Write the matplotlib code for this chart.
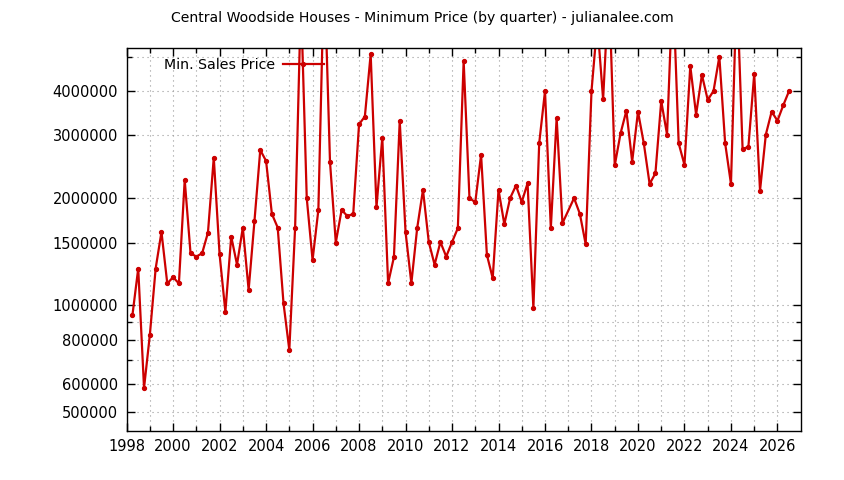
import matplotlib
matplotlib.use("Agg")
import matplotlib.pyplot as plt
from matplotlib.ticker import FixedLocator, NullFormatter, FuncFormatter

TITLE = "Central Woodside Houses - Minimum Price (by quarter) - julianalee.com"
LABEL = "Min. Sales Price"

# quarter positions (decimal year) -- 2017.0 has no sale
quarters = [
    1998.25, 1998.5, 1998.75, 1999.0, 1999.25, 1999.5, 1999.75,
    2000.0, 2000.25, 2000.5, 2000.75, 2001.0, 2001.25, 2001.5, 2001.75,
    2002.0, 2002.25, 2002.5, 2002.75, 2003.0, 2003.25, 2003.5, 2003.75,
    2004.0, 2004.25, 2004.5, 2004.75, 2005.0, 2005.25, 2005.5, 2005.75,
    2006.0, 2006.25, 2006.5, 2006.75, 2007.0, 2007.25, 2007.5, 2007.75,
    2008.0, 2008.25, 2008.5, 2008.75, 2009.0, 2009.25, 2009.5, 2009.75,
    2010.0, 2010.25, 2010.5, 2010.75, 2011.0, 2011.25, 2011.5, 2011.75,
    2012.0, 2012.25, 2012.5, 2012.75, 2013.0, 2013.25, 2013.5, 2013.75,
    2014.0, 2014.25, 2014.5, 2014.75, 2015.0, 2015.25, 2015.5, 2015.75,
    2016.0, 2016.25, 2016.5, 2016.75, 2017.25, 2017.5, 2017.75,
    2018.0, 2018.25, 2018.5, 2018.75, 2019.0, 2019.25, 2019.5, 2019.75,
    2020.0, 2020.25, 2020.5, 2020.75, 2021.0, 2021.25, 2021.5, 2021.75,
    2022.0, 2022.25, 2022.5, 2022.75, 2023.0, 2023.25, 2023.5, 2023.75,
    2024.0, 2024.25, 2024.5, 2024.75, 2025.0, 2025.25, 2025.5, 2025.75,
    2026.0, 2026.25, 2026.5,
]

min_price = [
    937000, 1268000, 585000, 825000, 1268000, 1607000, 1151000,
    1199000, 1151000, 2250000, 1400000, 1370000, 1400000, 1600000, 2600000,
    1390000, 958000, 1560000, 1300000, 1653000, 1104000, 1722000, 2730000,
    2544000, 1806000, 1653000, 1013000, 749000, 1653000, 7300000, 2000000,
    1340000, 1853000, 9000000, 2530000, 1500000, 1853000, 1780000, 1806000,
    3226000, 3390000, 5080000, 1885000, 2960000, 1153000, 1365000, 3297000,
    1607000, 1153000, 1646000, 2110000, 1505000, 1300000, 1505000, 1370000,
    1505000, 1646000, 4860000, 2000000, 1947000, 2645000, 1385000, 1191000,
    2110000, 1689000, 2000000, 2169000, 1950000, 2202000, 981000, 2852000,
    4000000, 1646000, 3360000, 1700000, 2000000, 1806000, 1484000,
    4000000, 6200000, 3790000, 8000000, 2470000, 3040000, 3520000, 2533000,
    3500000, 2852000, 2192000, 2349000, 3750000, 3017000, 8000000, 2852000,
    2480000, 4700000, 3434000, 4440000, 3776000, 4000000, 4996000, 2852000,
    2192000, 8000000, 2744000, 2790000, 4467000, 2100000, 3017000, 3500000,
    3300000, 3648000, 4000000,
]

y_labeled = [500000, 600000, 800000, 1000000, 1500000, 2000000, 3000000, 4000000]
y_unlabeled = [700000, 900000, 5000000]
x_major = list(range(1998, 2027, 2))
x_minor = list(range(1999, 2027, 2))

RED = "#cc0000"

fig = plt.figure(figsize=(8.44, 4.8), dpi=100)
ax = fig.add_axes([0.150, 0.102, 0.7987, 0.7972])

ax.plot(quarters, min_price, color=RED, lw=1.6, marker="o", ms=2.8,
        label=LABEL, clip_on=True)

ax.set_yscale("log")
ax.set_xlim(1998, 2027)
ax.set_ylim(443000, 5270000)

ax.yaxis.set_major_locator(FixedLocator(y_labeled))
ax.yaxis.set_major_formatter(FuncFormatter(lambda v, p: f"{int(round(v))}"))
ax.yaxis.set_minor_locator(FixedLocator(y_unlabeled))
ax.yaxis.set_minor_formatter(NullFormatter())
ax.xaxis.set_major_locator(FixedLocator(x_major))
ax.xaxis.set_minor_locator(FixedLocator(x_minor))

ax.tick_params(which="both", direction="in", top=True, right=True,
               labelsize=10.5, colors="black", width=1)
ax.tick_params(which="major", length=6, pad=6)
ax.tick_params(which="minor", length=3.5)

ax.grid(True, which="both", color="#999999", linestyle=(0, (1, 3.5)), lw=0.8)
for s in ax.spines.values():
    s.set_linewidth(1)

leg = ax.legend(loc="center right", bbox_to_anchor=(0.303, 0.956),
                frameon=False, markerfirst=False, numpoints=1,
                handlelength=2.9, handletextpad=0.5, borderpad=0,
                fontsize=10.2)

fig.text(0.5, 1 - 18 / 480, TITLE, ha="center", va="center", fontsize=10.1)

fig.savefig("out.png", dpi=100)
